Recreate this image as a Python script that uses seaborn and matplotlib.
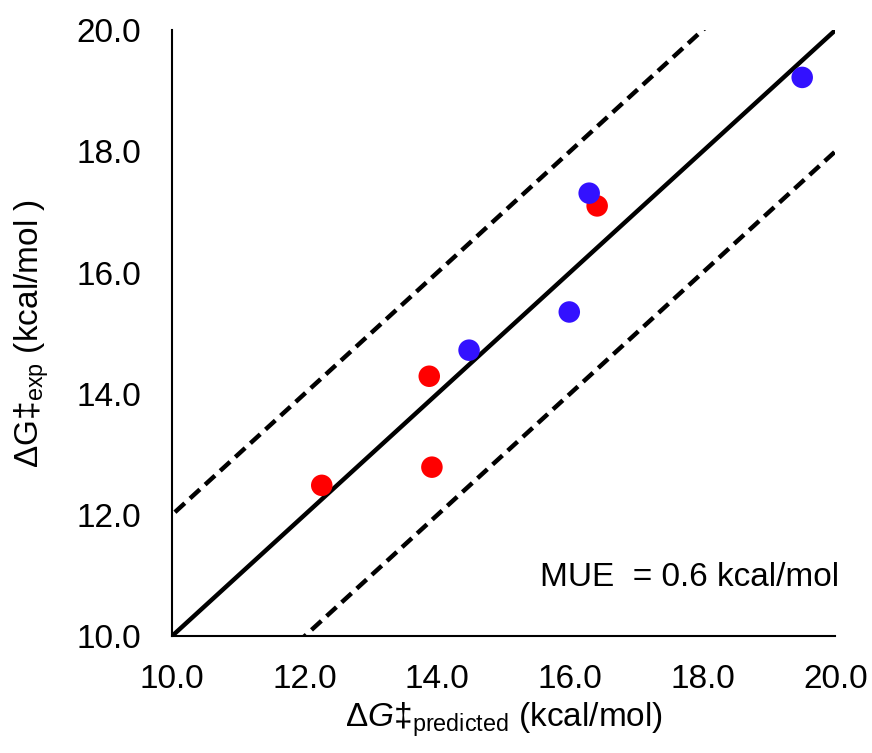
import matplotlib
matplotlib.use("Agg")
import matplotlib.pyplot as plt
import seaborn as sns
import pandas as pd
import numpy as np

red_pred = [12.26, 13.88, 13.92, 16.41]
red_exp = [12.49, 14.29, 12.79, 17.10]
blue_pred = [14.48, 15.99, 16.29, 19.50]
blue_exp = [14.72, 15.35, 17.31, 19.22]
ticks = [10.0, 12.0, 14.0, 16.0, 18.0, 20.0]
mue_text = "MUE  = 0.6 kcal/mol"

sns.set_theme(style="white")
plt.rcParams['font.family'] = ['Liberation Sans', 'DejaVu Sans']
plt.rcParams['mathtext.fontset'] = 'custom'
plt.rcParams['mathtext.it'] = 'Liberation Sans:italic'
plt.rcParams['mathtext.rm'] = 'Liberation Sans'

fig = plt.figure(figsize=(8.72, 7.53), dpi=100)
ax = fig.add_axes([0.197, 0.155, 0.761, 0.805])

line = np.array([8.0, 22.0])
ax.plot(line, line, color="black", lw=3.2, zorder=1)
ax.plot(line, line + 2, color="black", lw=3.2, ls=(0, (3, 1.6)), zorder=1)
ax.plot(line, line - 2, color="black", lw=3.2, ls=(0, (3, 1.6)), zorder=1)

df = pd.DataFrame({
    "pred": red_pred + blue_pred,
    "exp": red_exp + blue_exp,
    "set": ["red"] * len(red_pred) + ["blue"] * len(blue_pred),
})
sns.scatterplot(data=df, x="pred", y="exp", hue="set",
                palette={"red": "#FF0000", "blue": "#3311FF"},
                s=240, edgecolor="none", legend=False, ax=ax, zorder=3)

ax.set_xlim(10, 20)
ax.set_ylim(10, 20)
ax.set_xticks(ticks)
ax.set_yticks(ticks)
ax.set_xticklabels([f"{t:.1f}" for t in ticks])
ax.set_yticklabels([f"{t:.1f}" for t in ticks])
ax.tick_params(axis="x", labelsize=24, length=0, pad=20, colors="black")
ax.tick_params(axis="y", labelsize=24, length=0, pad=22, colors="black")
for s in ["top", "right"]:
    ax.spines[s].set_visible(False)
for s in ["left", "bottom"]:
    ax.spines[s].set_color("black")
    ax.spines[s].set_linewidth(1.5)

ax.set_xlabel(r"Δ$\mathit{G}$‡$_{\mathrm{predicted}}$ (kcal/mol)", fontsize=24, color="black", labelpad=4)
ax.set_ylabel(r"ΔG‡$_{\mathrm{exp}}$ (kcal/mol )", fontsize=24, color="black", labelpad=18)
ax.text(20.05, 10.97, mue_text, fontsize=24, ha="right", va="center", color="black")

fig.savefig("out.png", dpi=100)
